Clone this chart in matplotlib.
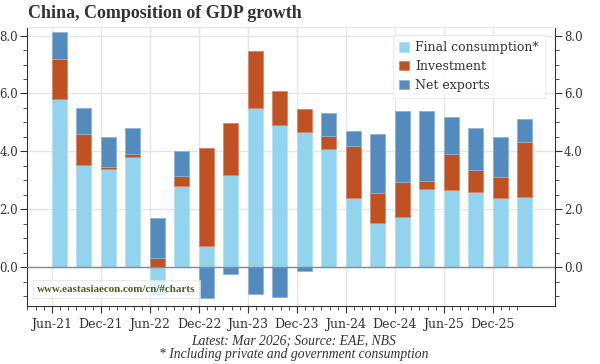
import matplotlib
matplotlib.use("Agg")
import matplotlib.pyplot as plt
import numpy as np
from matplotlib.ticker import FixedLocator, MultipleLocator, FuncFormatter

# quarterly contributions to GDP growth, ppt (Jun-21 .. Mar-26)
quarters = ["Jun-21", "Sep-21", "Dec-21", "Mar-22", "Jun-22", "Sep-22", "Dec-22",
            "Mar-23", "Jun-23", "Sep-23", "Dec-23", "Mar-24", "Jun-24", "Sep-24",
            "Dec-24", "Mar-25", "Jun-25", "Sep-25", "Dec-25", "Mar-26"]
consumption = [5.81, 3.53, 3.40, 3.79, -0.95, 2.79, 0.73, 3.19, 5.51, 4.92,
               4.68, 4.07, 2.39, 1.51, 1.74, 2.71, 2.66, 2.61, 2.40, 2.42]
investment = [1.37, 1.06, 0.06, 0.13, 0.32, 0.37, 3.40, 1.78, 1.95, 1.16,
              0.80, 0.47, 1.80, 1.05, 1.20, 0.25, 1.26, 0.76, 0.71, 1.89]
net_exports = [0.93, 0.91, 1.05, 0.89, 1.36, 0.85, -1.08, -0.25, -0.93, -1.03,
               -0.13, 0.77, 0.52, 2.04, 2.47, 2.45, 1.28, 1.44, 1.40, 0.80]

x_labels = ["Jun-21", "Dec-21", "Jun-22", "Dec-22", "Jun-23",
            "Dec-23", "Jun-24", "Dec-24", "Jun-25", "Dec-25"]

series = [
    ("Final consumption*", consumption, "#92d3ee", "#b5e2f5"),
    ("Investment", investment, "#bf5122", "#d9876a"),
    ("Net exports", net_exports, "#548bbf", "#8fb3d8"),
]

plt.rcParams["font.family"] = ["DejaVu Serif"]

fig = plt.figure(figsize=(6.0, 3.64), dpi=100)
ax = fig.add_axes([0.045, 0.159, 0.88, 0.767])

# months counted from Jun-21; bars sit at the end of the quarter month
xpos = np.arange(len(quarters)) * 3 + 0.9
pos_base = np.zeros(len(quarters))
neg_base = np.zeros(len(quarters))
for name, vals, col, edge in series:
    vals = np.array(vals)
    base = np.where(vals >= 0, pos_base, neg_base)
    ax.bar(xpos, vals, bottom=base, width=1.8, color=col,
           edgecolor=edge, linewidth=0.6, label=name, zorder=3)
    pos_base += np.where(vals >= 0, vals, 0)
    neg_base += np.where(vals < 0, vals, 0)

ax.set_xlim(-3.06, 61.6)
ax.set_ylim(-1.35, 8.3)

ax.xaxis.set_major_locator(FixedLocator(np.arange(len(x_labels)) * 6))
ax.set_xticklabels(x_labels)
ax.xaxis.set_minor_locator(FixedLocator(np.arange(-3, 58)))
ax.yaxis.set_major_locator(MultipleLocator(2))
ax.yaxis.set_minor_locator(MultipleLocator(0.5))
ax.yaxis.set_major_formatter(FuncFormatter(lambda v, p: f"{v:.1f}"))

ax.tick_params(axis="both", which="major", labelsize=9, colors="#333333",
               length=5, width=0.8, direction="out")
ax.tick_params(axis="both", which="minor", length=3, width=0.6, colors="#333333")
ax.tick_params(axis="y", which="both", left=True, right=True,
               labelleft=True, labelright=True)
ax.tick_params(axis="y", which="major", labelsize=8.5, pad=1.5)

ax.grid(True, which="major", color="#e6e6e6", linewidth=1, zorder=0)
ax.axhline(0, color="#8a8a8a", linewidth=1, zorder=4)

for side in ("left", "right", "bottom"):
    ax.spines[side].set_color("#333333")
    ax.spines[side].set_linewidth(0.8)
ax.spines["top"].set_color("#e6e6e6")

leg = ax.legend(loc="upper right", fontsize=9, frameon=True, fancybox=False,
                handlelength=0.8, handleheight=0.8, handletextpad=0.5,
                borderpad=0.5, labelspacing=0.45, bbox_to_anchor=(0.993, 0.993))
leg.get_frame().set_edgecolor("#e6e6e6")
leg.get_frame().set_linewidth(0.8)
for t in leg.get_texts():
    t.set_color("#333333")

ax.text(0.019, 0.045, "www.eastasiaecon.com/cn/#charts", transform=ax.transAxes,
        fontsize=7.9, fontweight="bold", family="Liberation Serif",
        color="#4b5e1f", ha="left", va="bottom", zorder=6,
        bbox=dict(boxstyle="square,pad=0.4", facecolor="white", alpha=0.7,
                  edgecolor="#e0e0e0", linewidth=0.8))

fig.text(0.047, 0.962, "China, Composition of GDP growth", fontsize=13,
         fontweight="bold", family="Liberation Serif", color="#333333",
         ha="left", va="center")
fig.text(0.49, 0.062, "Latest: Mar 2026; Source: EAE, NBS", fontsize=9.8,
         style="italic", family="Liberation Serif", color="#333333",
         ha="center", va="center")
fig.text(0.49, 0.027, "* Including private and government consumption",
         fontsize=9.8, style="italic", family="Liberation Serif",
         color="#333333", ha="center", va="center")

fig.savefig("out.png", dpi=100)
